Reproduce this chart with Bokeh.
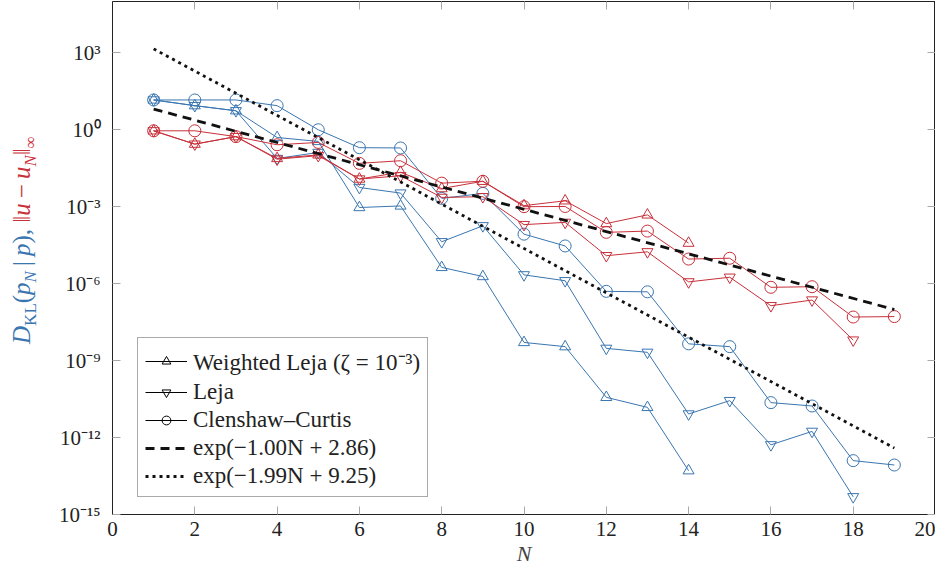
from bokeh.plotting import figure
from bokeh.models import (Range1d, FixedTicker, CustomJSTickFormatter, LinearAxis, LogAxis,
                          Legend, LegendItem, Div)
from bokeh.layouts import row
from bokeh.embed import file_html
from bokeh.resources import INLINE

# ---------------- data ----------------
N_wleja = list(range(1, 15))
N_leja = list(range(1, 19))
N_cc = list(range(1, 20))

dkl_wleja = [14.5, 8.7, 5.5, 0.50, 0.35, 9.3e-4, 1.07e-3, 4.3e-6, 1.9e-6, 5.1e-9, 3.5e-9,
             3.7e-11, 1.5e-11, 5.1e-14]
dkl_leja = [14.5, 8.7, 5.5, 7.6e-2, 0.13, 5.6e-3, 3.4e-3, 4.3e-5, 1.8e-4, 2.2e-6, 1.3e-6,
            3.0e-9, 2.1e-9, 8.3e-12, 2.75e-11, 5.2e-13, 1.74e-12, 4.9e-15]
dkl_cc = [14.5, 14.5, 14.5, 8.7, 1.0, 0.20, 0.195, 2.1e-3, 3.3e-3, 8.5e-5, 2.95e-5, 5.0e-7,
          4.8e-7, 4.5e-9, 3.5e-9, 2.3e-11, 1.7e-11, 1.26e-13, 8.5e-14]

err_wleja = [0.91, 0.275, 0.54, 7.6e-2, 0.105, 1.2e-2, 2.2e-2, 5.1e-3, 9.8e-3, 1.1e-3, 1.7e-3,
             2.2e-4, 4.8e-4, 3.8e-5]
err_leja = [0.91, 0.275, 0.54, 7.1e-2, 9.8e-2, 1.2e-2, 1.6e-2, 2.3e-3, 2.45e-3, 2.0e-4, 2.45e-4,
            1.23e-5, 1.74e-5, 1.17e-6, 1.78e-6, 1.38e-7, 2.3e-7, 6.3e-9]
err_cc = [0.91, 0.91, 0.54, 0.26, 0.32, 4.9e-2, 6.2e-2, 8.3e-3, 9.8e-3, 1.0e-3, 1.02e-3, 1.0e-4,
          1.12e-4, 9.1e-6, 9.8e-6, 7.2e-7, 7.6e-7, 5.0e-8, 5.2e-8]

fit_N = [1, 19]
fit_slow = [6.42, 9.8e-8]      # exp(-1.00N+2.86)
fit_fast = [1422.0, 3.9e-13]   # exp(-1.99N+9.25)

x_ticks = list(range(0, 21, 2))
y_ticks = [1e3, 1e0, 1e-3, 1e-6, 1e-9, 1e-12, 1e-15]

legend_labels = ["Weighted Leja (ζ = 10⁻³)", "Leja", "Clenshaw–Curtis",
                 "exp(−1.00N + 2.86)", "exp(−1.99N + 9.25)"]

# ---------------- style ----------------
BLUE = "#3a76b0"
RED = "#c8303a"
FONT = "'Liberation Serif', serif"
TICKC = "#a8a8a8"
LABEL_W = 42

p = figure(frame_width=823, frame_height=513,
           y_axis_type="log", output_backend="svg", toolbar_location=None,
           x_range=Range1d(0, 20), y_range=Range1d(1e-15, 1e5),
           min_border_left=112 - LABEL_W, min_border_right=0, min_border_top=1,
           min_border_bottom=58)
p.background_fill_color = "white"
p.border_fill_color = "white"
p.outline_line_color = "#222222"
p.outline_line_width = 1
p.xgrid.visible = False
p.ygrid.visible = False

sup = CustomJSTickFormatter(code="""
const m = {'-':'\u207b','0':'\u2070','1':'\u00b9','2':'\u00b2','3':'\u00b3','4':'\u2074',
           '5':'\u2075','6':'\u2076','7':'\u2077','8':'\u2078','9':'\u2079'};
const e = Math.round(Math.log10(tick));
return '10' + String(e).split('').map(c => m[c]).join('');
""")
blank = CustomJSTickFormatter(code="return '';")

for ax in p.xaxis:
    ax.ticker = FixedTicker(ticks=x_ticks)
    ax.axis_label = "N"
    ax.axis_label_text_font = FONT
    ax.axis_label_text_font_style = "italic"
    ax.axis_label_text_font_size = "22px"
    ax.axis_label_standoff = 2
for ax in p.yaxis:
    ax.ticker = FixedTicker(ticks=y_ticks)
    ax.formatter = sup
for ax in list(p.xaxis) + list(p.yaxis):
    ax.major_label_text_font = FONT
    ax.major_label_text_font_size = "21px"
    ax.major_label_text_color = "#222222"
    ax.major_tick_in = 8
    ax.major_tick_out = 0
    ax.minor_tick_line_color = None
    ax.major_tick_line_color = TICKC
    ax.axis_line_color = "#222222"
    ax.major_label_standoff = 7
p.yaxis.major_label_standoff = 12

top = LinearAxis(ticker=FixedTicker(ticks=x_ticks), formatter=blank,
                 major_tick_in=8, major_tick_out=0, minor_tick_line_color=None,
                 major_tick_line_color=TICKC, axis_line_color="#222222", major_label_standoff=0)
right = LogAxis(ticker=FixedTicker(ticks=y_ticks), formatter=blank,
                major_tick_in=8, major_tick_out=0, minor_tick_line_color=None,
                major_tick_line_color=TICKC, axis_line_color="#222222", major_label_standoff=0)
p.add_layout(top, "above")
p.add_layout(right, "right")

# ---------------- data glyphs ----------------
def series(xs, ys, color, marker):
    p.line(xs, ys, line_color=color, line_width=1)
    p.scatter(xs, ys, marker=marker, size=12 if marker == "circle" else 11,
              line_color=color, fill_color=None, line_width=1)

series(N_cc, dkl_cc, BLUE, "circle")
series(N_leja, dkl_leja, BLUE, "inverted_triangle")
series(N_wleja, dkl_wleja, BLUE, "triangle")
series(N_cc, err_cc, RED, "circle")
series(N_leja, err_leja, RED, "inverted_triangle")
series(N_wleja, err_wleja, RED, "triangle")

r_slow = p.line(fit_N, fit_slow, line_color="#111111", line_width=2.8, line_dash="9 6")
r_fast = p.line(fit_N, fit_fast, line_color="#111111", line_width=2.8, line_dash="3 4")

# ---------------- legend ----------------
items = []
for lab, mk in zip(legend_labels[:3], ["triangle", "inverted_triangle", "circle"]):
    rl = p.line([0], [0.0], line_color="black", line_width=1)
    rs = p.scatter([0], [0.0], marker=mk, size=8, line_color="black", fill_color=None,
                   line_width=1)
    items.append(LegendItem(label=lab, renderers=[rl, rs]))
items.append(LegendItem(label=legend_labels[3], renderers=[r_slow]))
items.append(LegendItem(label=legend_labels[4], renderers=[r_fast]))

leg = Legend(items=items, location=(25, 17), orientation="vertical",
             label_text_font=FONT, label_text_font_size="23px", label_text_color="#222222",
             glyph_width=42, glyph_height=22, label_height=22, label_standoff=6, spacing=2,
             padding=7, margin=0, border_line_color="#555555", border_line_width=1,
             background_fill_alpha=1.0)
p.add_layout(leg, "center")

# ---------------- y-axis label (two colours) as rotated HTML ----------------
ylabel_html = (
    '<div style="position:absolute; left:24px; top:240px; '
    'transform:translate(-50%,-50%) rotate(-90deg); white-space:nowrap; '
    "font-family:'Liberation Serif',serif; font-size:25px; line-height:1;\">"
    f'<span style="color:{BLUE}"><i>D</i><sub style="font-size:17px">KL</sub>'
    '(<i>p</i><sub style="font-size:17px"><i>N</i></sub>&#8201;|&#8201;<i>p</i>),</span> '
    f'<span style="color:{RED}">&#8214;<i>u</i>&#8201;&#8722;&#8201;<i>u</i>'
    '<sub style="font-size:17px"><i>N</i></sub>&#8214;<sub style="font-size:17px">&#8734;</sub>'
    '</span></div>'
)
ylabel = Div(text=ylabel_html, width=LABEL_W, height=560, margin=0)

layout = row(ylabel, p, spacing=0)
open("out.html", "w").write(file_html(layout, INLINE))
